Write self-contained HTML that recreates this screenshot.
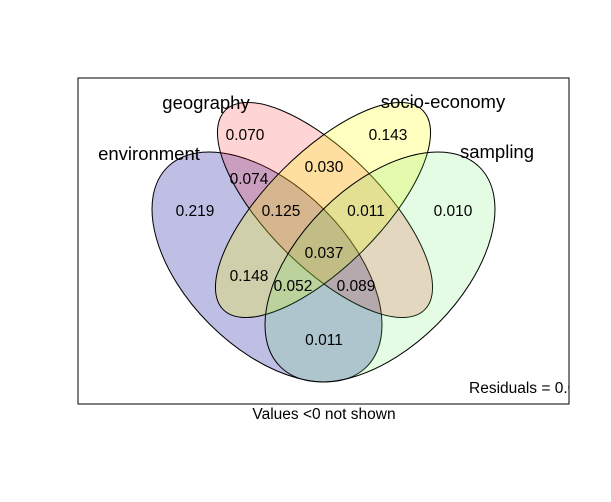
<!DOCTYPE html>
<html><head><meta charset="utf-8"><style>
html,body{margin:0;padding:0;background:#fff;}
svg{display:block;font-family:"Liberation Sans",Arial,sans-serif;}
</style></head><body>
<svg id="chart" width="611" height="502" viewBox="0 0 611 502">
<defs><clipPath id="boxclip"><rect x="78" y="78" width="491" height="326"/></clipPath></defs>
<rect x="0" y="0" width="611" height="502" fill="#fff"/>
<g id="shapes"></g>
<g id="vals"></g>
<g id="labels"></g>
<rect x="78" y="78" width="491" height="326" fill="none" stroke="#000" stroke-width="1"/>
<g clip-path="url(#boxclip)"><text x="469" y="393" font-size="15.5">Residuals = 0.0</text></g>
<text x="324" y="419" font-size="15.5" text-anchor="middle">Values &lt;0 not shown</text>
</svg>
<script>
const setNames = ["environment","geography","socio-economy","sampling"];
const setColors = ["rgba(0,0,150,0.25)","rgba(255,0,0,0.17)","rgba(255,255,0,0.25)","rgba(90,230,90,0.16)"];
const regionValues = ["0.219","0.070","0.143","0.010","0.074","0.030","0.125","0.011","0.037","0.148","0.052","0.089","0.011"];
const regionSets = ["E","G","S","P","EG","GS","EGS","GSP","EGSP","ES","ESP","EGP","EP"];
const ns="http://www.w3.org/2000/svg";
const shapes=[{cx:267,cy:267,a:141,b:81,r:45},{cx:325,cy:210,a:141,b:57,r:45},{cx:323,cy:210,a:141,b:57,r:-45},{cx:380,cy:267,a:141,b:81,r:-45}];
const labelPos=[[149,160,"middle"],[206,109,"middle"],[443,108,"middle"],[497,158,"middle"]];
const regionPos={E:[195,216],G:[245,140],S:[388,140],P:[453,216],EG:[249,184],GS:[324,172],EGS:[281,216],GSP:[366,216],EGSP:[324,258],ES:[249,281],ESP:[293,291],EGP:[356,291],EP:[324,345]};
const gS=document.getElementById('shapes'),gV=document.getElementById('vals'),gL=document.getElementById('labels');
shapes.forEach((s,i)=>{
 const e=document.createElementNS(ns,'ellipse');
 e.setAttribute('cx',s.cx);e.setAttribute('cy',s.cy);e.setAttribute('rx',s.a);e.setAttribute('ry',s.b);
 e.setAttribute('transform','rotate('+s.r+' '+s.cx+' '+s.cy+')');
 e.setAttribute('fill',setColors[i]);e.setAttribute('stroke','#000');e.setAttribute('stroke-width','1');
 
 
 gS.appendChild(e);
 const t=document.createElementNS(ns,'text');
 t.setAttribute('x',labelPos[i][0]);t.setAttribute('y',labelPos[i][1]);t.setAttribute('text-anchor',labelPos[i][2]);
 t.setAttribute('font-size','18.5');t.textContent=setNames[i];
 
 
 gL.appendChild(t);
});
regionValues.forEach((v,i)=>{
 const p=regionPos[regionSets[i]];
 const t=document.createElementNS(ns,'text');
 t.setAttribute('x',p[0]);t.setAttribute('y',p[1]);t.setAttribute('text-anchor','middle');t.setAttribute('font-size','15.5');
 t.textContent=v;
 
 
 gV.appendChild(t);
});
</script>
</body></html>
